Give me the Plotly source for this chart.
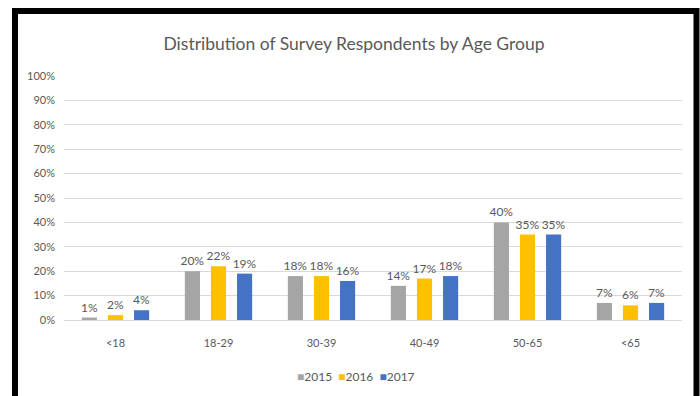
import plotly.graph_objects as go

# Survey respondents share by age group, per year
age_groups = ["<18", "18-29", "30-39", "40-49", "50-65", "<65"]
share_2015 = [0.01, 0.20, 0.18, 0.14, 0.40, 0.07]
share_2016 = [0.02, 0.22, 0.18, 0.17, 0.35, 0.06]
share_2017 = [0.04, 0.19, 0.16, 0.18, 0.35, 0.07]

years = ["2015", "2016", "2017"]
series = [share_2015, share_2016, share_2017]
colors = ["#A5A5A5", "#FFC000", "#4472C4"]

FONT = "Lato"
TEXT_GREY = "#595959"

# Plot area in pixels: x 64..682, y 76..320
W, H = 700, 396
L, R, T, B = 64, 18, 76, 76
pw, ph = W - L - R, H - T - B


def px_to_paper_x(px):
    return (px - L) / pw


def px_to_paper_y(py):
    return (H - B - py) / ph


fig = go.Figure()
for name, vals, col in zip(years, series, colors):
    fig.add_trace(go.Bar(
        x=age_groups,
        y=vals,
        name=name,
        marker=dict(color=col, line=dict(width=0)),
        texttemplate="%{y:.0%}",
        textposition="outside",
        constraintext="none",
        textfont=dict(family=FONT, size=12, color=TEXT_GREY),
        cliponaxis=False,
        showlegend=False,
    ))

# Compact legend: coloured square followed by the year
legend_text = "  ".join(
    f"<span style='color:{c}'>■</span>{y}" for y, c in zip(years, colors)
)

fig.update_layout(
    width=W,
    height=H,
    margin=dict(l=L, r=R, t=T, b=B, autoexpand=False),
    paper_bgcolor="white",
    plot_bgcolor="white",
    barmode="group",
    bargap=0.24,
    bargroupgap=0.42,
    font=dict(family=FONT, color=TEXT_GREY),
    title=dict(
        text="Distribution of Survey Respondents by Age Group",
        x=354 / W,
        xanchor="center",
        xref="container",
        y=1 - 44 / H,
        yref="container",
        yanchor="middle",
        font=dict(family=FONT, size=17.5, color=TEXT_GREY),
    ),
    xaxis=dict(
        showgrid=False,
        showline=True,
        linecolor="#D9D9D9",
        linewidth=1,
        ticks="",
        tickfont=dict(family=FONT, size=11, color=TEXT_GREY),
        ticklabelstandoff=13,
    ),
    yaxis=dict(
        range=[0, 1],
        dtick=0.1,
        tickformat=".0%",
        showgrid=True,
        gridcolor="#D9D9D9",
        gridwidth=1,
        zeroline=False,
        showline=False,
        ticks="",
        tickfont=dict(family=FONT, size=11, color=TEXT_GREY),
        ticklabelstandoff=8,
    ),
    annotations=[
        dict(
            text=legend_text,
            xref="paper",
            yref="paper",
            x=px_to_paper_x(356),
            y=px_to_paper_y(376),
            xanchor="center",
            yanchor="middle",
            showarrow=False,
            font=dict(family=FONT, size=12, color=TEXT_GREY),
        )
    ],
    shapes=[
        # black frame around the chart
        dict(
            type="rect",
            xref="paper",
            yref="paper",
            x0=px_to_paper_x(15),
            x1=px_to_paper_x(696.5),
            y0=px_to_paper_y(420),
            y1=px_to_paper_y(11),
            line=dict(color="black", width=6),
            fillcolor="rgba(0,0,0,0)",
            layer="above",
        )
    ],
)

fig.write_html("out.html")
